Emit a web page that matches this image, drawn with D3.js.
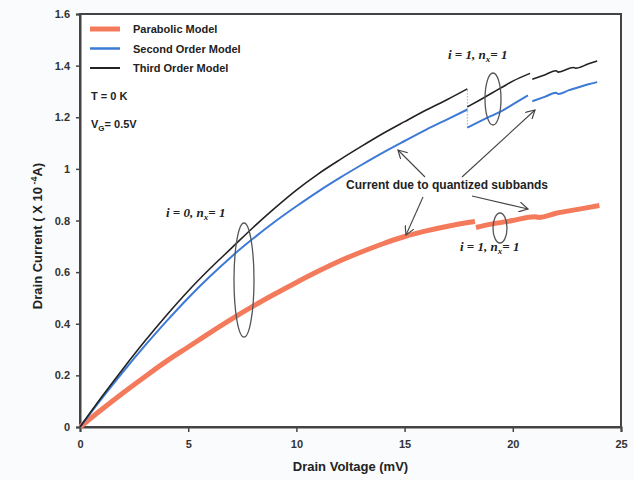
<!DOCTYPE html>
<html>
<head>
<meta charset="utf-8">
<title></title>
<script src="https://cdn.jsdelivr.net/npm/d3@7"></script>
<style>
  body { margin: 0; background: #fafbfd; font-family: "Liberation Sans", Arial, sans-serif; }
  svg { display: block; }
  .tick text { font-weight: bold; fill: #333; font-size: 11px; }
  .ann { font-family: "Liberation Serif", serif; font-style: italic; font-weight: bold; font-size: 13px; fill: #222; }
</style>
</head>
<body>
<script>
// drain voltage (mV) / drain current (x1e-4 A)
const xTicks = [0, 5, 10, 15, 20, 25]
const yTicks = [0, 0.2, 0.4, 0.6, 0.8, 1, 1.2, 1.4, 1.6]

// parabolic model
const vPara1 = [0, 1, 2, 3, 4, 5, 6, 7, 8, 9, 10, 11, 12, 13, 14, 15, 16, 17, 18.25]
const iPara1 = [0, 0.068, 0.133, 0.195, 0.255, 0.31, 0.365, 0.418, 0.468, 0.515, 0.56, 0.603, 0.643, 0.678, 0.71, 0.738, 0.76, 0.778, 0.796]
const vPara2 = [18.3, 19, 20, 21, 21.2, 22, 23, 24]
const iPara2 = [0.773, 0.786, 0.80, 0.815, 0.812, 0.828, 0.843, 0.858]

// second order model
const vSec1 = [0, 1, 2, 3, 4, 5, 6, 7, 8, 9, 10, 11, 12, 13, 14, 15, 16, 17, 17.9]
const iSec1 = [0, 0.11, 0.215, 0.315, 0.41, 0.50, 0.583, 0.66, 0.73, 0.795, 0.855, 0.912, 0.965, 1.015, 1.063, 1.108, 1.152, 1.193, 1.23]
const vSec2 = [17.9, 18.5, 19, 19.5, 20, 20.7]
const iSec2 = [1.16, 1.185, 1.205, 1.225, 1.25, 1.285]
const vSec3 = [20.9, 21.5, 22, 22.1, 22.6, 23, 23.5, 23.9]
const iSec3 = [1.262, 1.28, 1.295, 1.29, 1.305, 1.315, 1.328, 1.336]

// third order model
const vThird1 = [0, 1, 2, 3, 4, 5, 6, 7, 8, 9, 10, 11, 12, 13, 14, 15, 16, 17, 17.9]
const iThird1 = [0, 0.116, 0.227, 0.333, 0.433, 0.527, 0.613, 0.693, 0.773, 0.848, 0.918, 0.98, 1.035, 1.087, 1.137, 1.183, 1.228, 1.27, 1.31]
const vThird2 = [17.9, 18.5, 19, 19.5, 20, 20.8]
const iThird2 = [1.24, 1.268, 1.292, 1.316, 1.34, 1.37]
const vThird3 = [20.9, 21.5, 22, 22.1, 22.8, 22.9, 23.5, 23.9]
const iThird3 = [1.347, 1.365, 1.38, 1.375, 1.393, 1.39, 1.407, 1.418]

var W = 634, H = 480
var margin = { left: 80, top: 14, right: 13, bottom: 53 }

var svg = d3.select("body").append("svg").attr("width", W).attr("height", H)

var x = d3.scaleLinear().domain([0, 25]).range([margin.left, W - margin.right])
var y = d3.scaleLinear().domain([0, 1.6]).range([H - margin.bottom, margin.top])

svg.append("rect")
  .attr("x", x(0)).attr("y", y(1.6))
  .attr("width", x(25) - x(0)).attr("height", y(0) - y(1.6))
  .attr("fill", "#fff").attr("stroke", "#444").attr("stroke-width", 2)

// axes
svg.append("g")
  .attr("transform", "translate(0," + y(0) + ")")
  .call(d3.axisBottom(x).tickValues(xTicks).tickSize(5).tickPadding(8))
  .call(g => g.select(".domain").attr("stroke", "#444").attr("stroke-width", 2))
  .call(g => g.selectAll(".tick line").attr("stroke", "#444").attr("stroke-width", 1.5))

svg.append("g")
  .attr("transform", "translate(" + x(0) + ",0)")
  .call(d3.axisLeft(y).tickValues(yTicks).tickSize(4).tickPadding(6).tickFormat(d3.format("")))
  .call(g => g.select(".domain").attr("stroke", "#444").attr("stroke-width", 2))
  .call(g => g.selectAll(".tick line").attr("stroke", "#444").attr("stroke-width", 1.5))

// axis titles
svg.append("text")
  .attr("x", (x(0) + x(25)) / 2).attr("y", 471)
  .attr("text-anchor", "middle")
  .attr("font-weight", "bold").attr("font-size", 13).attr("fill", "#222")
  .text("Drain Voltage (mV)")

var yt = svg.append("text")
  .attr("transform", "translate(42," + 236 + ") rotate(-90)")
  .attr("text-anchor", "middle")
  .attr("font-weight", "bold").attr("font-size", 13).attr("fill", "#222")
yt.append("tspan").text("Drain Current  ( X 10")
yt.append("tspan").attr("dy", -5).attr("font-size", 9).text(" -4")
yt.append("tspan").attr("dy", 5).text("A)")

// curves
var line = d3.line().x(d => x(d[0])).y(d => y(d[1])).curve(d3.curveMonotoneX)
function pairs(vs, is) { return vs.map((v, k) => [v, is[k]]) }

function draw(vs, is, color, w) {
  svg.append("path")
    .datum(pairs(vs, is))
    .attr("d", line)
    .attr("fill", "none")
    .attr("stroke", color)
    .attr("stroke-width", w)
    .attr("stroke-linejoin", "round")
}

draw(vPara1, iPara1, "#f47a5c", 5)
draw(vPara2, iPara2, "#f47a5c", 5)

// faint dotted step at the first subband edge
svg.append("line")
  .attr("x1", x(17.9)).attr("x2", x(17.9))
  .attr("y1", y(iSec2[0])).attr("y2", y(iThird1[iThird1.length - 1]))
  .attr("stroke", "#aaa").attr("stroke-width", 1).attr("stroke-dasharray", "1.5,1.5")

draw(vSec1, iSec1, "#3d7ad6", 2)
draw(vSec2, iSec2, "#3d7ad6", 2)
draw(vSec3, iSec3, "#3d7ad6", 2)

draw(vThird1, iThird1, "#222", 1.6)
draw(vThird2, iThird2, "#222", 1.6)
draw(vThird3, iThird3, "#222", 1.6)

// legend
var legend = [["Parabolic Model", "#f47a5c", 5], ["Second Order Model", "#3d7ad6", 2.5], ["Third Order Model", "#222", 2]]
var lg = svg.append("g")
legend.forEach(function(e, i) {
  var yy = 29 + i * 19.5
  lg.append("line").attr("x1", 90).attr("x2", 120).attr("y1", yy).attr("y2", yy)
    .attr("stroke", e[1]).attr("stroke-width", e[2])
  lg.append("text").attr("x", 133).attr("y", yy + 4)
    .attr("font-weight", "bold").attr("font-size", 11).attr("fill", "#222").text(e[0])
})

svg.append("text").attr("x", 91).attr("y", 100)
  .attr("font-weight", "bold").attr("font-size", 11).attr("fill", "#222").text("T = 0 K")
var vg = svg.append("text").attr("x", 91).attr("y", 128)
  .attr("font-weight", "bold").attr("font-size", 11).attr("fill", "#222")
vg.append("tspan").text("V")
vg.append("tspan").attr("dy", 3).attr("font-size", 8).text("G")
vg.append("tspan").attr("dy", -3).text("= 0.5V")

// subband annotations
function subband(tx, ty, label) {
  var t = svg.append("text").attr("class", "ann").attr("x", tx).attr("y", ty)
  t.append("tspan").text("i  = " + label + ", n")
  t.append("tspan").attr("dy", 3).attr("font-size", 9).text("x")
  t.append("tspan").attr("dy", -3).text("= 1")
}
subband(166, 217, "0")
subband(448, 59, "1")
subband(460, 251, "1")

var ell = [[244, 280, 10, 57], [493, 99, 8, 26], [500, 228, 7, 15]]
ell.forEach(function(e) {
  svg.append("ellipse").attr("cx", e[0]).attr("cy", e[1]).attr("rx", e[2]).attr("ry", e[3])
    .attr("fill", "none").attr("stroke", "#555").attr("stroke-width", 1.3)
})

svg.append("defs").append("marker")
  .attr("id", "arr").attr("viewBox", "0 0 10 10").attr("refX", 9).attr("refY", 5)
  .attr("markerWidth", 9).attr("markerHeight", 9).attr("orient", "auto")
  .append("path").attr("d", "M0,0 L9,5 L0,10").attr("fill", "none").attr("stroke", "#444").attr("stroke-width", 1.2)

var arrows = [[425, 177, 398, 150], [462, 177, 535, 110], [423, 197, 406, 235], [472, 196, 528, 209]]
arrows.forEach(function(a) {
  svg.append("line").attr("x1", a[0]).attr("y1", a[1]).attr("x2", a[2]).attr("y2", a[3])
    .attr("stroke", "#444").attr("stroke-width", 1.1).attr("marker-end", "url(#arr)")
})

svg.append("text").attr("x", 346).attr("y", 189)
  .attr("font-weight", "bold").attr("font-size", 12).attr("fill", "#222")
  .text("Current due to  quantized subbands")
</script>
</body>
</html>
